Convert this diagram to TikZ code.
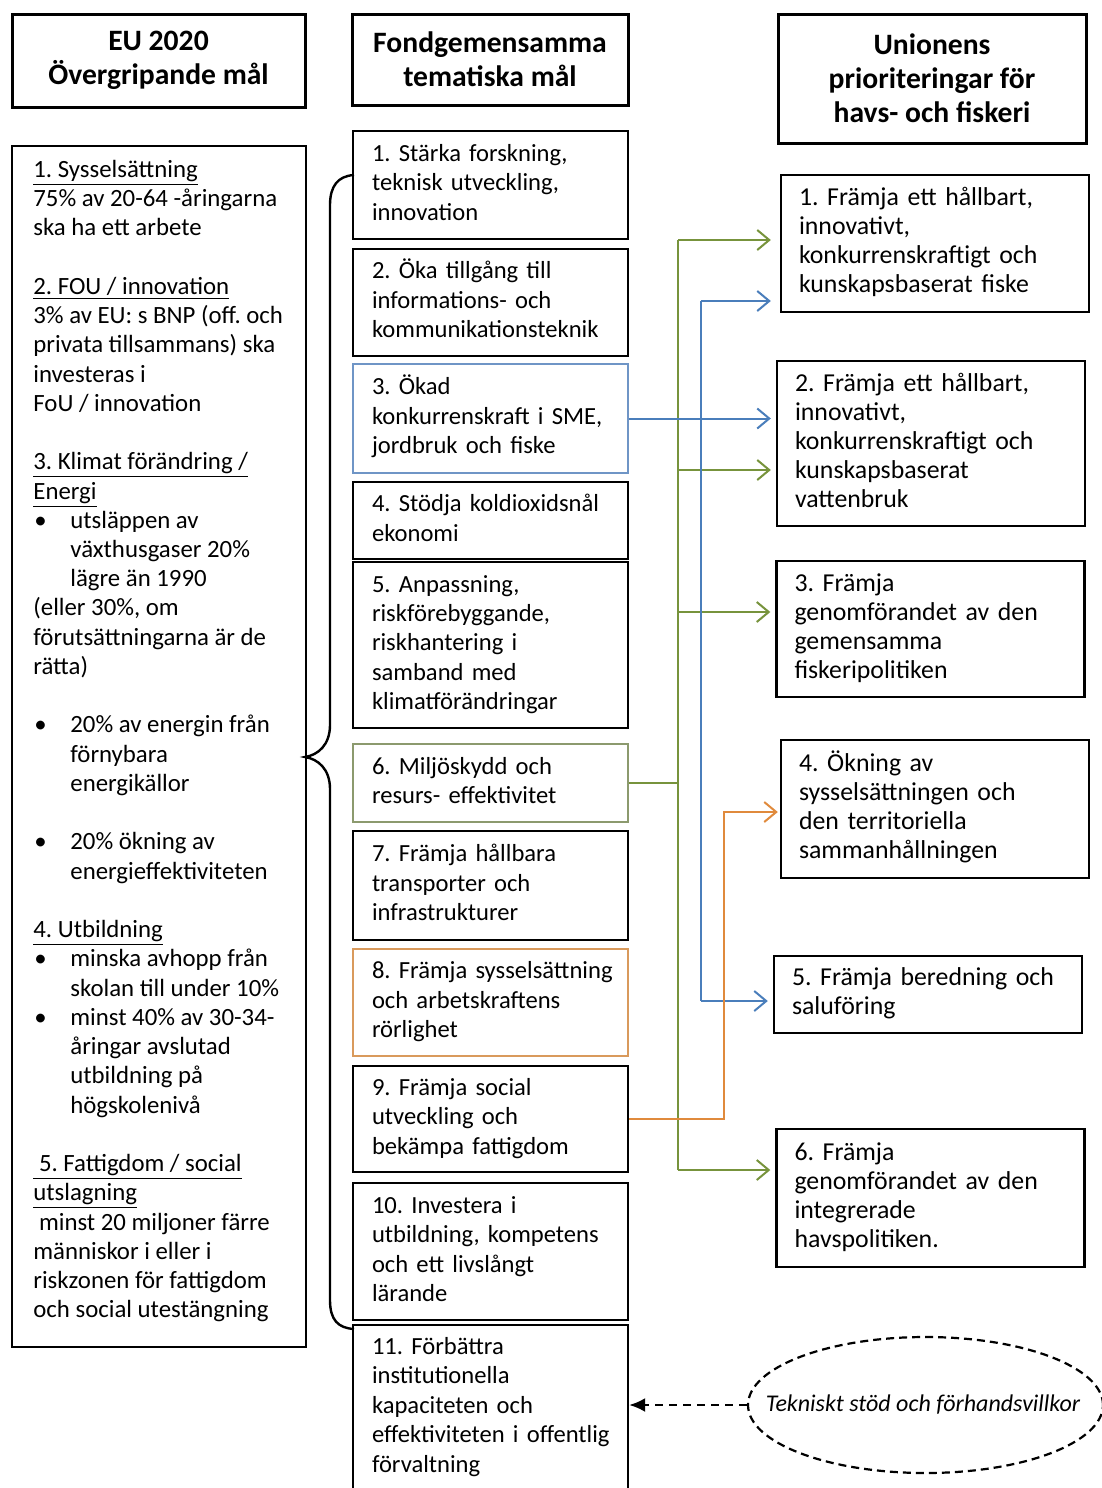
\documentclass[tikz,border=0pt]{standalone}
\usepackage{fontspec}
\setmainfont{Carlito}
\usetikzlibrary{arrows.meta,shapes.geometric}
\definecolor{cgreen}{HTML}{77933C}
\definecolor{cblue}{HTML}{4A7EBB}
\definecolor{corange}{HTML}{E08A3C}
\definecolor{bblue}{HTML}{6F95C6}
\definecolor{bgreen}{HTML}{8C9A6E}
\definecolor{borange}{HTML}{D99A5C}
\frenchspacing
\newcommand{\TL}[1]{\begin{tabular}{@{}l@{}}#1\end{tabular}}
\newcommand{\bulitem}{\makebox[18.5pt][l]{\hspace{0.5pt}\textbullet}}
\newcommand{\indt}{\hspace*{18.5pt}}
\begin{document}
\begin{tikzpicture}[x=0.5pt,y=-0.5pt,
  hdr/.style={draw,line width=1.5pt,align=center,inner sep=0pt,font=\fontsize{14.8}{17}\selectfont\bfseries},
  mbox/.style={draw,line width=1.2pt,inner xsep=9.5pt,inner ysep=0pt,text width=118.5pt,minimum width=137.5pt,align=left,font=\fontsize{12.3}{14.7}\selectfont},
  rbox/.style={draw,line width=1.2pt,inner xsep=9pt,inner ysep=0pt,text width=136pt,minimum width=154pt,align=left,font=\fontsize{12.9}{14.5}\selectfont},
  conn/.style={line width=1pt},
  arrowbarb/.style={-{Straight Barb[length=6pt,width=10pt]}, shorten >=2.5pt}
]
\useasboundingbox (0,0) rectangle (1102,1488);

% headers
\node[hdr,minimum width=146.5pt,minimum height=46.5pt] (h1) at (158.5,60.5) {EU 2020\\Övergripande mål};
\node[hdr,minimum width=138pt,minimum height=45.5pt] (h2) at (490,59.5) {Fondgemensamma\\tematiska mål};
\node[hdr,minimum width=154pt,minimum height=64.5pt] (h3) at (932,78.5) {Unionens\\prioriteringar för\\havs- och fiskeri};

% left column
\node[draw,line width=1.2pt,minimum width=147pt,minimum height=600.5pt,inner sep=0pt] (lbox) at (159,746.5) {};
\node[anchor=north west,inner sep=0pt,font=\fontsize{12.4}{14.62}\selectfont] (ltext) at (33,156.5) {\TL{%
\underline{1. Sysselsättning}\\
75\% av 20-64 -åringarna\\
ska ha ett arbete\\
\\
\underline{2. FOU / innovation}\\
3\% av EU: s BNP (off. och\\
privata tillsammans) ska\\
investeras i\\
FoU / innovation\\
\\
\underline{3. Klimat förändring /}\\
\underline{Energi}\\
\bulitem utsläppen av\\
\indt växthusgaser 20\%\\
\indt lägre än 1990\\
(eller 30\%, om\\
förutsättningarna är de\\
rätta)\\
\\
\bulitem 20\% av energin från\\
\indt förnybara\\
\indt energikällor\\
\\
\bulitem 20\% ökning av\\
\indt energieffektiviteten\\
\\
\underline{4. Utbildning}\\
\bulitem minska avhopp från\\
\indt skolan till under 10\%\\
\bulitem minst 40\% av 30-34-\\
\indt åringar avslutad\\
\indt utbildning på\\
\indt högskolenivå\\
\\
\underline{\ 5. Fattigdom / social}\\
\underline{utslagning}\\
\ minst 20 miljoner färre\\
människor i eller i\\
riskzonen för fattigdom\\
och social utestängning}};

% middle column
\node[mbox,minimum height=54pt] (m1) at (490.5,185) {\TL{1. Stärka forskning,\\teknisk utveckling,\\innovation}};
\node[mbox,minimum height=53.5pt] (m2) at (490.5,302.5) {\TL{2. Öka tillgång till\\informations- och\\kommunikationsteknik}};
\node[mbox,draw=bblue,line width=0.8pt,minimum height=54.5pt] (m3) at (490.5,418.5) {\TL{3. Ökad\\konkurrenskraft i SME,\\jordbruk och fiske}};
\node[mbox,minimum height=38.5pt] (m4) at (490.5,520.5) {\TL{4. Stödja koldioxidsnål\\ekonomi}};
\node[mbox,minimum height=83pt] (m5) at (490.5,645) {\TL{5. Anpassning,\\riskförebyggande,\\riskhantering i\\samband med\\klimatförändringar}};
\node[mbox,draw=bgreen,line width=0.8pt,minimum height=39pt] (m6) at (490.5,783) {\TL{6. Miljöskydd och\\resurs- effektivitet}};
\node[mbox,minimum height=54.5pt] (m7) at (490.5,885.5) {\TL{7. Främja hållbara\\transporter och\\infrastrukturer}};
\node[mbox,draw=borange,line width=0.8pt,minimum height=53.5pt] (m8) at (490.5,1002.5) {\TL{8. Främja sysselsättning\\och arbetskraftens\\rörlighet}};
\node[mbox,minimum height=53pt] (m9) at (490.5,1119) {\TL{9. Främja social\\utveckling och\\bekämpa fattigdom}};
\node[mbox,minimum height=68.5pt] (m10) at (490.5,1251.5) {\TL{10. Investera i\\utbildning, kompetens\\och ett livslångt\\lärande}};
\node[mbox,minimum height=82.5pt] (m11) at (490.5,1407.5) {\TL{11. Förbättra\\institutionella\\kapaciteten och\\effektiviteten i offentlig\\förvaltning}};

% brace
\draw[line width=1.2pt] (354,175) .. controls (338,176) and (330,186) .. (330,205) -- (330,725)
  .. controls (330,745) and (318,755) .. (305,757)
  .. controls (318,759) and (330,769) .. (330,789) -- (330,1300)
  .. controls (330,1320) and (338,1328) .. (354,1329);

% right column
\node[rbox,minimum height=68.5pt] (r1) at (935,243.5) {\TL{1. Främja ett hållbart,\\innovativt,\\konkurrenskraftigt och\\kunskapsbaserat fiske}};
\node[rbox,minimum height=82.5pt] (r2) at (931,443.5) {\TL{2. Främja ett hållbart,\\innovativt,\\konkurrenskraftigt och\\kunskapsbaserat\\vattenbruk}};
\node[rbox,minimum height=68pt] (r3) at (930.5,629) {\TL{3. Främja\\genomförandet av den\\gemensamma\\fiskeripolitiken}};
\node[rbox,minimum height=69pt] (r4) at (935,809) {\TL{4. Ökning av\\sysselsättningen och\\den territoriella\\sammanhållningen}};
\node[rbox,minimum height=38.5pt] (r5) at (928,994.5) {\TL{5. Främja beredning och\\saluföring}};
\node[rbox,minimum height=69pt] (r6) at (930.5,1198) {\TL{6. Främja\\genomförandet av den\\integrerade\\havspolitiken.}};

% ellipse
\node[ellipse,draw,line width=1.1pt,dash pattern=on 4pt off 2.5pt,minimum width=177.5pt,minimum height=68pt,inner sep=0pt] (ell) at (925.5,1405) {};
\node[font=\fontsize{12}{14}\selectfont\itshape,inner sep=0pt] (ellt) at (923,1405) {Tekniskt stöd och förhandsvillkor};
\draw[line width=1.1pt,dash pattern=on 4pt off 3pt,-{Latex[length=8pt,width=7pt]}] (ell.west) -- (ell.west -| m11.east);

% connector coordinates
\coordinate (gA) at (678,240);
\coordinate (gB) at (678,470);
\coordinate (gC) at (678,612);
\coordinate (gD) at (678,1170);
\coordinate (bA) at (701,301);
\coordinate (bD) at (701,1001);
\coordinate (oA) at (724,812);

% green
\draw[conn,cgreen] (m6.east) -- (m6.east -| gA);
\draw[conn,cgreen] (gD) -- (gA);
\draw[conn,cgreen,arrowbarb,shorten >=4.5pt] (gA) -- (gA -| r1.west);
\draw[conn,cgreen,arrowbarb] (gB) -- (gB -| r2.west);
\draw[conn,cgreen,arrowbarb] (gC) -- (gC -| r3.west);
\draw[conn,cgreen,arrowbarb] (gD) -- (gD -| r6.west);
% blue
\draw[conn,cblue] (bA) -- (bD);
\draw[conn,cblue,arrowbarb] (m3.east) -- (m3.east -| r2.west);
\draw[conn,cblue,arrowbarb,shorten >=4.5pt] (bA) -- (bA -| r1.west);
\draw[conn,cblue,arrowbarb] (bD) -- (bD -| r5.west);
% orange
\draw[conn,corange,arrowbarb,shorten >=1pt] (m9.east) -- (m9.east -| oA) -- (oA) -- (oA -| r4.west);
\end{tikzpicture}
\end{document}
